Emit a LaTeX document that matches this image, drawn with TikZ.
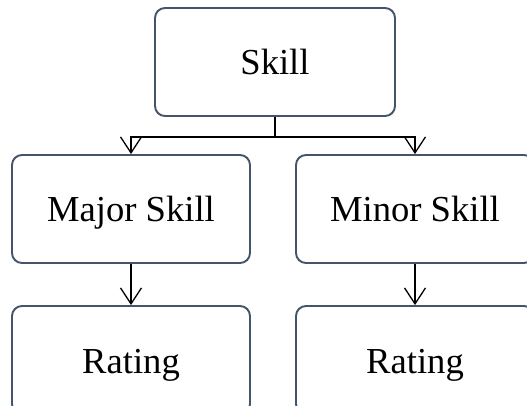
\documentclass[tikz,border=0pt]{standalone}
\usepackage{fontspec}
\setmainfont{Liberation Serif}
\usetikzlibrary{arrows.meta}

\definecolor{boxline}{HTML}{44546A}

\tikzset{
  item/.style={draw=boxline, line width=1.9pt, rounded corners=10pt,
    minimum width=238pt, minimum height=108pt, inner sep=0pt,
    text height=26pt, text depth=0pt,
    font=\fontsize{36.6}{40}\selectfont},
  link/.style={draw=black, line width=1.3pt,
    -{Straight Barb[length=16pt,width=21pt,line width=1.3pt]}}
}

\begin{document}
\begin{tikzpicture}[x=1pt,y=-1pt]
    \useasboundingbox (0,0) rectangle (527,406);

    \node [item, minimum width=240pt] (skill) at (275,62) {Skill};

    \node [item] (major) at (131,209) {Major Skill};
    \node [item] (minor) at (415,209) {Minor Skill};

    \node [item] (rateA) at (131,360) {Rating};
    \node [item] (rateB) at (415,360) {Rating};

    \draw [link] (skill.south) -- ++(0,20) -| (major.north);
    \draw [link] (skill.south) -- ++(0,20) -| (minor.north);

    \draw [link] (major.south) -- (rateA.north);
    \draw [link] (minor.south) -- (rateB.north);
  \end{tikzpicture}
\end{document}
